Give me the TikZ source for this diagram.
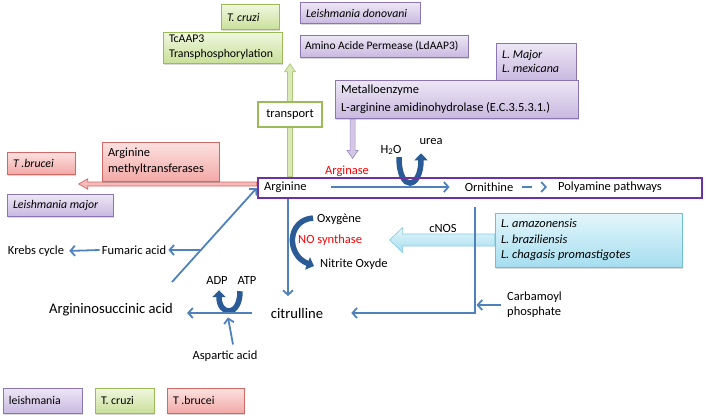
\documentclass[tikz,border=0pt]{standalone}
\usepackage{fontspec}
\setmainfont{Carlito}
\usetikzlibrary{arrows.meta,shadows,calc,backgrounds}
\frenchspacing

\definecolor{purpline}{HTML}{8B75B5}
\definecolor{purptop}{HTML}{EDE7F5}
\definecolor{purpbot}{HTML}{C9B9E0}
\definecolor{grnline}{HTML}{9BBB59}
\definecolor{grntop}{HTML}{F0F7DF}
\definecolor{grnbot}{HTML}{C9E09A}
\definecolor{redline}{HTML}{D06966}
\definecolor{redtop}{HTML}{FCE2E1}
\definecolor{redbot}{HTML}{F2A9A7}
\definecolor{cyanline}{HTML}{6EC0D6}
\definecolor{cyantop}{HTML}{E4F6FB}
\definecolor{cyanbot}{HTML}{A5DEF0}
\definecolor{flowblue}{HTML}{4F81BD}
\definecolor{bandblue}{HTML}{2B5B97}
\definecolor{axispurp}{HTML}{7030A0}
\definecolor{argred}{HTML}{FF0000}

\tikzset{
  txt/.style={font=\fontsize{12.5}{15}\selectfont, inner sep=2pt},
  bigtxt/.style={font=\fontsize{14.6}{17}\selectfont, inner sep=2pt},
  basebox/.style={draw, line width=0.8pt, align=flush left, inner xsep=6pt, inner ysep=2pt,
    font=\fontsize{11.8}{15}\selectfont,
    drop shadow={shadow xshift=1.2pt, shadow yshift=-1.6pt, opacity=0.3}},
  purpbox/.style={basebox, draw=purpline, top color=purptop, bottom color=purpbot},
  grnbox/.style={basebox, draw=grnline, top color=grntop, bottom color=grnbot},
  redbox/.style={basebox, draw=redline, top color=redtop, bottom color=redbot},
  cyanbox/.style={basebox, draw=cyanline, top color=cyantop, bottom color=cyanbot},
  blueflow/.style={draw=flowblue, line width=1.8pt, -{Straight Barb[length=4.5pt, width=10pt]}},
  bandarrow/.style={draw=bandblue, line width=5.5pt, -{Triangle[length=7pt, width=13pt]}},
  blockarr/.style={line width=0.7pt, line join=miter},
}

\begin{document}
\begin{tikzpicture}[x=1pt, y=-1pt]
\useasboundingbox (0,0) rectangle (708,418);

% boxes
\node[grnbox, text width=46pt, minimum height=25pt] (cruzi) at (250,17) {\itshape T. cruzi};
\node[grnbox, text width=107pt, minimum height=31pt] (tcaap) at (222.5,47.5) {TcAAP3\\Transphosphorylation};
\node[purpbox, text width=108pt, minimum height=21pt] (donov) at (360,13) {\itshape Leishmania donovani};
\node[purpbox, text width=158pt, inner xsep=5pt, minimum height=22pt, font=\fontsize{11.5}{15}\selectfont] (perm) at (384,46) {Amino Acide Permease (LdAAP3)};
\node[purpbox, text width=68pt, minimum height=37pt, font=\fontsize{12}{13.5}\selectfont] (majmex) at (536,61.5) {\itshape L. Major\\\itshape L. mexicana};
\node[purpbox, text width=231pt, minimum height=38pt, font=\fontsize{12.4}{18}\selectfont] (metal) at (456.5,99) {Metalloenzyme\\L-arginine amidinohydrolase (E.C.3.5.3.1.)};
\node[txt, draw=grnline, line width=1.5pt, fill=white, minimum width=64pt, minimum height=25pt] (transp) at (290,114.5) {transport};
\node[redbox, text width=56pt, minimum height=22pt] (brucei) at (41,163) {\itshape T .brucei};
\node[redbox, text width=105pt, minimum height=39pt, font=\fontsize{12.4}{16}\selectfont] (methyl) at (160.5,161.5) {Arginine\\methyltransferases};
\node[purpbox, text width=94pt, minimum height=22pt] (lmajor) at (60,205) {\itshape Leishmania major};
\node[cyanbox, text width=175pt, minimum height=54pt, font=\fontsize{12.4}{15.5}\selectfont] (lamaz) at (588.5,240) {\itshape L. amazonensis\\\itshape L. braziliensis\\\itshape L. chagasis promastigotes};

% legend
\node[purpbox, text width=67pt, minimum height=25pt] (legleish) at (42.5,400.5) {leishmania};
\node[grnbox, text width=47pt, minimum height=25pt] (legcruzi) at (124.5,400.5) {T. cruzi};
\node[redbox, text width=65pt, minimum height=25pt] (legbrucei) at (205.5,400.5) {T .brucei};

% arginine line
\node[draw=axispurp, line width=2.5pt, minimum width=444pt, minimum height=20pt, inner sep=0pt] (axis) at (480,188) {};

% metabolites
\node[txt, anchor=west] (arg) at (262,187) {Arginine};
\node[txt] (orn) at (489,187) {Ornithine};
\node[txt] (poly) at (610,187) {Polyamine pathways};
\node[txt, text=argred] (ase) at (347,171) {Arginase};
\node[txt] (h2o) at (391,150) {H\textsubscript{2}O};
\node[txt] (urea) at (431,142) {urea};
\node[txt, anchor=west] (oxy) at (315,219) {Oxygène};
\node[txt, anchor=west, text=argred] (nos) at (296,240) {NO synthase};
\node[txt, anchor=west] (nitr) at (318,264) {Nitrite Oxyde};
\node[txt] (cnos) at (443,228) {cNOS};
\node[bigtxt] (citr) at (297,313) {citrulline};
\node[bigtxt] (asuc) at (111,310) {Argininosuccinic acid};
\node[txt] (adp) at (217,280) {ADP};
\node[txt] (atp) at (247,280) {ATP};
\node[txt] (asp) at (225,356) {Aspartic acid};
\node[txt] (fum) at (134,250) {Fumaric acid};
\node[txt] (krebs) at (36,251) {Krebs cycle};
\node[txt, anchor=west, align=left] (carb) at (505,305) {Carbamoyl\\phosphate};

\coordinate (citrtop) at (288,296);
\coordinate (asucup) at (172,282);
\coordinate (cnosx) at (475,207);

% block arrows and bent arrows behind
\begin{scope}[on background layer]
  \filldraw[blockarr, draw=grnline!80, fill=grnbot!70] (axis.north -| transp.south) ++(-2.5,0) -- ++(0,-105) -- ++(-3,0) -- ++(5.5,-8) -- ++(5.5,8) -- ++(-3,0) -- ++(0,105) -- cycle;
  \filldraw[blockarr, draw=purpline!80, fill=purpbot!80] (metal.south west) ++(15.5,0) -- ++(0,32) -- ++(-3,0) -- ++(5.5,8) -- ++(5.5,-8) -- ++(-3,0) -- ++(0,-32) -- cycle;
  \filldraw[blockarr, draw=redline, fill=redbot!80] (axis.west) ++(0,-6) -- ++(-169,0) -- ++(0,-3.2) -- ++(-9,5.2) -- ++(9,5.2) -- ++(0,-3.2) -- ++(169,0) -- cycle;
  \draw[blockarr, draw=cyanline!80, top color=cyantop, bottom color=cyanbot] (lamaz.west) ++(0,-6) -- ++(-92,0) -- ++(0,-6.5) -- ++(-13,12.5) -- ++(13,12.5) -- ++(0,-6.5) -- ++(92,0) -- cycle;
  \draw[bandarrow] ($(h2o.south)+(8,0)$) .. controls +(0,36) and +(0,36) .. ($(urea.south)+(-10,6)$);
  \draw[bandarrow] ($(oxy.west)+(-2,-1)$) .. controls +(-26,2) and +(-28,-11) .. ($(nitr.west)+(-4,2)$);
  \draw[bandarrow] ($(atp.south)+(-7,5)$) .. controls +(0,26) and +(0,26) .. ($(adp.south)+(2,4)$);
\end{scope}

% pathway arrows
\draw[blueflow, shorten <=22pt, shorten >=13pt] (arg.east) -- (orn.west);
\draw[blueflow, dash pattern=on 10pt off 30pt, shorten <=7pt, shorten >=9pt] (orn.east) -- (poly.west);
\draw[blueflow] (axis.south -| citrtop) -- (citrtop);
\draw[blueflow] (asucup) -- (axis.west);
\draw[blueflow] ($(asucup)!0.34!(axis.west)$) -- (fum.east);
\draw[blueflow, shorten >=3pt] (fum.west) -- (krebs.east);
\draw[blueflow, shorten <=17pt, shorten >=12pt] (citr.west) -- (citr.west -| asuc.east);
\draw[blueflow] ($(asp.north)+(8,-4)$) -- ($(asp.north)+(3,-31)$);
\draw[blueflow, shorten >=26pt] (cnosx) |- (citr.east);
\draw[blueflow, shorten <=4pt, shorten >=1.5pt] (carb.west) -- (carb.west -| cnosx);
\end{tikzpicture}
\end{document}
